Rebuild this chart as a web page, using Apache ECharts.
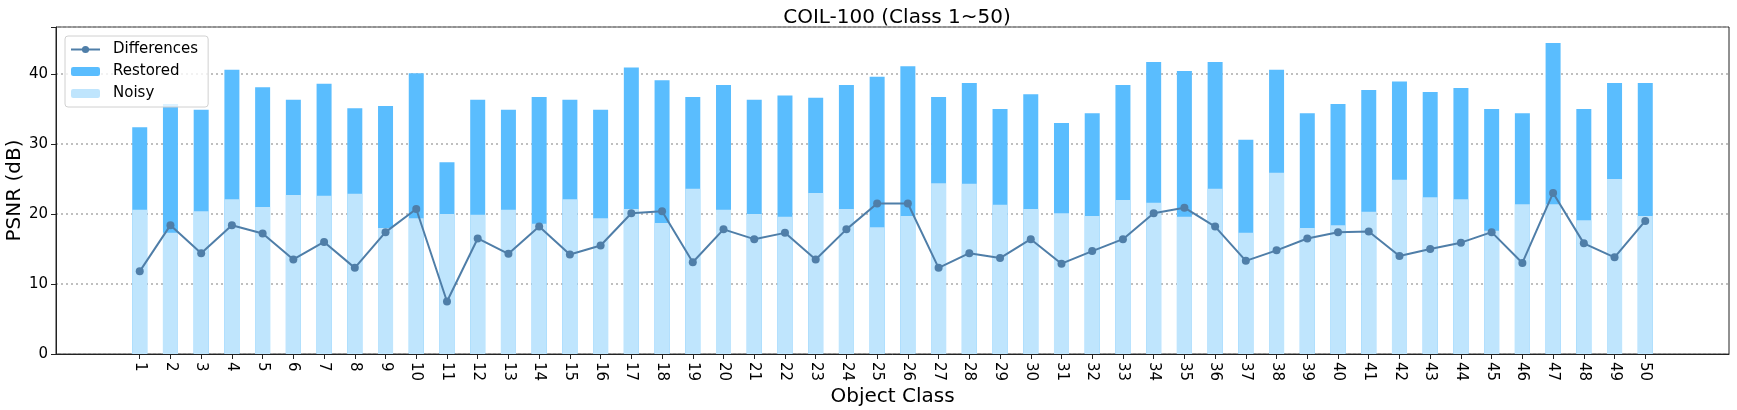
<!DOCTYPE html>
<html>
<head>
<meta charset="utf-8">
<title>COIL-100 (Class 1~50)</title>
<script src="https://cdn.jsdelivr.net/npm/echarts@6/dist/echarts.min.js"></script>
<style>
html, body { margin: 0; padding: 0; background: #fff; }
#chart { width: 1737px; height: 410px; }
</style>
</head>
<body>
<div id="chart"></div>
<script>
// object classes 1..50
const classes = [1, 2, 3, 4, 5, 6, 7, 8, 9, 10, 11, 12, 13, 14, 15, 16, 17, 18, 19, 20,
    21, 22, 23, 24, 25, 26, 27, 28, 29, 30, 31, 32, 33, 34, 35, 36, 37, 38, 39, 40,
    41, 42, 43, 44, 45, 46, 47, 48, 49, 50]

// PSNR after restoration (dB)
const restored = [32.4, 35.7, 34.9, 40.6, 38.1, 36.3, 38.6, 35.1, 35.4, 40.1,
    27.4, 36.3, 34.9, 36.7, 36.3, 34.9, 40.9, 39.1, 36.7, 38.4,
    36.3, 36.9, 36.6, 38.4, 39.6, 41.1, 36.7, 38.7, 35.0, 37.1,
    33.0, 34.4, 38.4, 41.7, 40.4, 41.7, 30.6, 40.6, 34.4, 35.7,
    37.7, 38.9, 37.4, 38.0, 35.0, 34.4, 44.4, 35.0, 38.7, 38.7]

// PSNR of noisy input (dB)
const noisy = [20.6, 17.3, 20.4, 22.1, 21.0, 22.7, 22.6, 22.9, 18.0, 19.4,
    20.0, 19.9, 20.6, 18.6, 22.1, 19.4, 20.7, 18.7, 23.6, 20.6,
    20.0, 19.6, 23.0, 20.7, 18.1, 19.7, 24.4, 24.3, 21.3, 20.7,
    20.1, 19.7, 22.0, 21.6, 19.6, 23.6, 17.3, 25.9, 18.0, 18.4,
    20.3, 24.9, 22.4, 22.1, 17.6, 21.4, 21.4, 19.1, 25.0, 19.7]

// restored - noisy (dB)
const differences = [11.8, 18.4, 14.4, 18.4, 17.2, 13.5, 16.0, 12.3, 17.4, 20.7,
    7.5, 16.5, 14.3, 18.2, 14.2, 15.5, 20.1, 20.4, 13.1, 17.8,
    16.4, 17.3, 13.5, 17.8, 21.5, 21.5, 12.3, 14.4, 13.7, 16.4,
    12.9, 14.7, 16.4, 20.1, 20.9, 18.2, 13.3, 14.8, 16.5, 17.4,
    17.5, 14.0, 15.0, 15.9, 17.4, 13.0, 23.0, 15.8, 13.8, 19.0]

const yTicks = [0, 10, 20, 30, 40]

const font = 'DejaVu Sans'

const pairs = (vals) => classes.map((c, i) => [c, vals[i]])

const chart = echarts.init(document.getElementById('chart'))

const option = {
    animation: false,
    textStyle: { fontFamily: font },
    title: {
        text: 'COIL-100 (Class 1~50)',
        left: 892,
        top: 3,
        textAlign: 'center',
        textStyle: { fontFamily: font, fontSize: 20, fontWeight: 'normal', color: '#000' },
    },
    legend: {
        orient: 'vertical',
        left: 65,
        top: 36,
        padding: [6, 10, 6, 5],
        itemGap: 7,
        itemWidth: 29,
        itemHeight: 9,
        borderColor: '#d0d0d0',
        borderWidth: 1,
        borderRadius: 3,
        backgroundColor: 'rgba(255,255,255,0.8)',
        data: ['Differences', 'Restored', 'Noisy'],
        textStyle: { fontFamily: font, fontSize: 15, color: '#000', padding: [0, 0, 0, 8] },
    },
    grid: {
        left: 56,
        right: 8,
        top: 27,
        bottom: 56,
        outerBoundsMode: 'none',
        show: true,
        borderColor: '#222',
        borderWidth: 1,
    },
    xAxis: {
        type: 'value',
        min: -1.725,
        max: 52.725,
        name: 'Object Class',
        nameLocation: 'middle',
        nameGap: 33,
        nameMoveOverlap: false,
        nameTextStyle: { fontFamily: font, fontSize: 20, color: '#000' },
        axisLine: { show: true, onZero: false, lineStyle: { color: '#222' } },
        axisTick: { show: true, length: 5, customValues: classes, lineStyle: { color: '#222' } },
        axisLabel: {
            customValues: classes,
            rotate: -90,
            margin: 8,
            fontFamily: font,
            fontSize: 15,
            color: '#000',
        },
        splitLine: { show: false },
    },
    yAxis: {
        type: 'value',
        min: 0,
        max: 46.7,
        interval: 10,
        name: 'PSNR (dB)',
        nameLocation: 'middle',
        nameGap: 31,
        nameMoveOverlap: false,
        nameTextStyle: { fontFamily: font, fontSize: 20, color: '#000' },
        axisLine: { show: true, onZero: false, lineStyle: { color: '#222' } },
        axisTick: { show: true, length: 5, lineStyle: { color: '#222' } },
        axisLabel: {
            margin: 8,
            fontFamily: font,
            fontSize: 15,
            color: '#000',
            formatter: (v) => (yTicks.includes(v) ? String(v) : ''),
        },
        splitLine: { show: true, lineStyle: { color: '#aaaaaa', type: [2, 3], width: 1.5 } },
    },
    series: [
        {
            name: 'Restored',
            type: 'bar',
            data: pairs(restored),
            barWidth: 15,
            barGap: '-100%',
            itemStyle: { color: '#5abdfe' },
            z: 2,
        },
        {
            name: 'Noisy',
            type: 'bar',
            data: pairs(noisy),
            barWidth: 15,
            barGap: '-100%',
            itemStyle: { color: '#bfe5fd' },
            z: 3,
        },
        {
            name: 'Differences',
            type: 'line',
            data: pairs(differences),
            symbol: 'circle',
            symbolSize: 8,
            lineStyle: { color: '#4f7ea8', width: 2 },
            itemStyle: { color: '#4f7ea8' },
            z: 4,
        },
    ],
}

chart.setOption(option)
window.addEventListener('resize', () => chart.resize())
</script>
</body>
</html>
